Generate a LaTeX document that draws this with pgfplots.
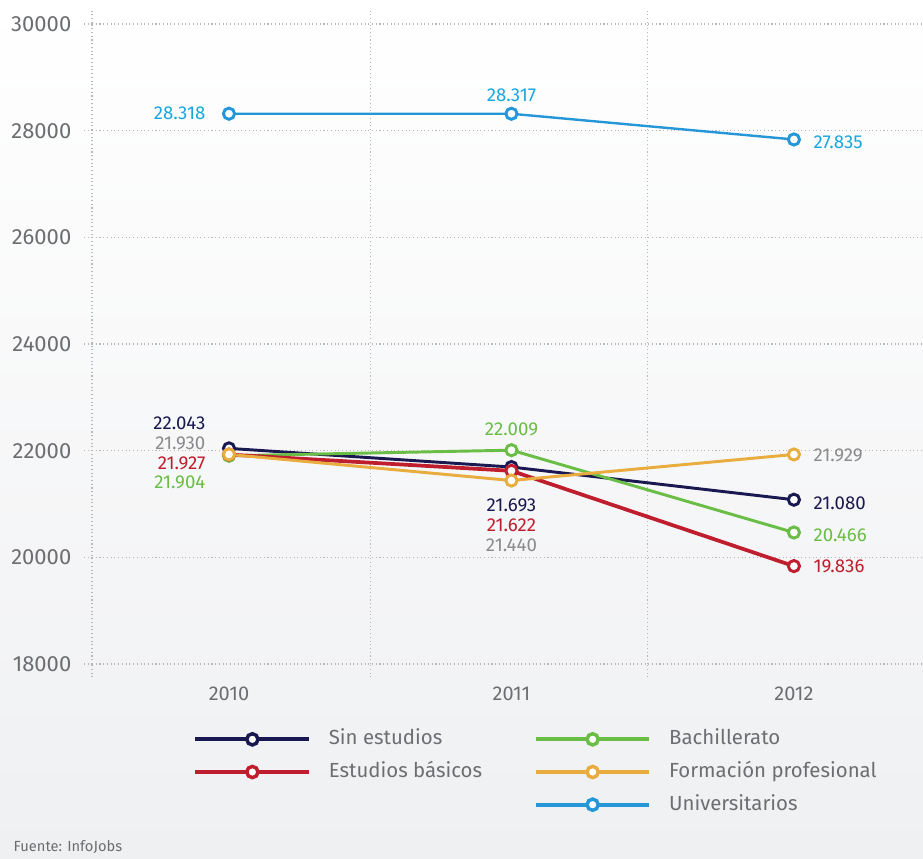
\documentclass[border=0pt]{standalone}
\usepackage{fontspec}
\setmainfont{Fira Sans}
\usepackage{pgfplots}
\pgfplotsset{compat=1.18}
\definecolor{cnavy}{HTML}{1A1850}
\definecolor{cred}{HTML}{BE1E2D}
\definecolor{cgreen}{HTML}{6ABD45}
\definecolor{corange}{HTML}{E8AD3E}
\definecolor{cblue}{HTML}{2596D8}
\definecolor{ccyan}{HTML}{1AA7E0}
\definecolor{ctick}{HTML}{6D6E71}
\definecolor{cgrid}{HTML}{B5B7BA}
\definecolor{clabgray}{HTML}{8A8B8D}
\definecolor{bgbot}{HTML}{EFF0F2}
\newcommand{\lab}{\fontsize{14}{16}\selectfont}
\begin{document}
\begin{tikzpicture}
\path[use as bounding box] (0,0) rectangle (692.25pt,643.5pt);
\shade[top color=white, bottom color=bgbot] (0,0) rectangle (692.25pt,643.5pt);
\begin{axis}[
  at={(69pt,145.5pt)}, anchor=south west,
  scale only axis, width=623.25pt, height=480pt,
  xmin=-0.485, xmax=2.457, ymin=18000, ymax=30000,
  axis line style={draw=none},
  xtick={0,1,2}, xticklabels={2010,2011,2012},
  minor xtick={-0.485,0.5,1.483},
  ytick={18000,20000,22000,24000,26000,28000,30000},
  scaled y ticks=false,
  xminorgrids=true, ymajorgrids=true, xmajorgrids=false,
  grid style={cgrid, line width=0.8pt, dash pattern=on 0.8pt off 2pt},
  minor grid style={cgrid, line width=0.8pt, dash pattern=on 0.8pt off 2pt},
  tick style={cgrid, line width=0.8pt, dash pattern=on 0.8pt off 2pt},
  major x tick style={draw=none},
  tick align=outside,
  major tick length=6pt, minor tick length=10pt,
  tick label style={color=ctick},
  yticklabel style={font=\fontsize{16.5}{18}\selectfont, xshift=-6pt},
  xticklabel style={font=\fontsize{15}{17}\selectfont, yshift=-8pt},
  /pgf/number format/1000 sep={},
  /pgf/number format/assume math mode=true,
  clip=false,
  legend columns=2,
  legend cell align=left,
  legend style={at={(axis description cs:0.1215,-0.1027)}, anchor=north west,
    draw=none, fill=none, inner sep=0pt, column sep=13.5pt, row sep=10.5pt,
    font=\fontsize{15.3}{17}\selectfont, text=ctick,
    nodes={inner sep=0pt, text height=11pt, text depth=3pt}},
  legend image code/.code={
    \draw[line width=3.2pt] (0pt,0pt) -- (85pt,0pt);
    \draw[line width=2.6pt, fill=white] (42.75pt,0pt) circle (4.2pt);
  },
  every axis plot/.append style={line width=2.2pt, mark=*, mark size=4.2pt,
    mark options={fill=white, line width=2.2pt, solid}},
]
\addplot[color=cnavy] coordinates {(0,22043) (1,21693) (2,21080)};
\addlegendentry{\makebox[140pt][l]{Sin estudios}}
\addplot[color=cgreen] coordinates {(0,21904) (1,22009) (2,20466)};
\addlegendentry{Bachillerato}
\addplot[color=cred, line width=2.8pt] coordinates {(0,21927) (1,21622) (2,19836)};
\addlegendentry{\makebox[140pt][l]{Estudios básicos}}
\addplot[color=corange] coordinates {(0,21930) (1,21440) (2,21929)};
\addlegendentry{Formación profesional}
\addlegendimage{empty legend}
\addlegendentry{}
\addplot[color=cblue, line width=1.8pt] coordinates {(0,28318) (1,28317) (2,27835)};
\addlegendentry{Universitarios}

% value labels
\node[anchor=east, text=ccyan, font=\lab] at (axis cs:-0.067,28331) {28.318};
\node[anchor=center, text=ccyan, font=\lab] at (axis cs:1,28669) {28.317};
\node[anchor=west, text=ccyan, font=\lab] at (axis cs:2.053,27787) {27.835};

\node[anchor=east, text=cnavy, font=\lab] at (axis cs:-0.067,22519) {22.043};
\node[anchor=east, text=clabgray, font=\lab] at (axis cs:-0.067,22144) {21.930};
\node[anchor=east, text=cred, font=\lab] at (axis cs:-0.067,21769) {21.927};
\node[anchor=east, text=cgreen, font=\lab] at (axis cs:-0.067,21412) {21.904};

\node[anchor=center, text=cgreen, font=\lab] at (axis cs:1,22406) {22.009};
\node[anchor=center, text=cnavy, font=\lab] at (axis cs:1,20981) {21.693};
\node[anchor=center, text=cred, font=\lab] at (axis cs:1,20606) {21.622};
\node[anchor=center, text=clabgray, font=\lab] at (axis cs:1,20231) {21.440};

\node[anchor=west, text=clabgray, font=\lab] at (axis cs:2.053,21919) {21.929};
\node[anchor=west, text=cnavy, font=\lab] at (axis cs:2.053,21019) {21.080};
\node[anchor=west, text=cgreen, font=\lab] at (axis cs:2.053,20419) {20.466};
\node[anchor=west, text=cred, font=\lab] at (axis cs:2.053,19838) {19.836};
\end{axis}
\node[anchor=base west, font=\fontsize{11}{13}\selectfont, text=ctick] at (6.75pt,5pt) {Fuente: InfoJobs};
\end{tikzpicture}
\end{document}
